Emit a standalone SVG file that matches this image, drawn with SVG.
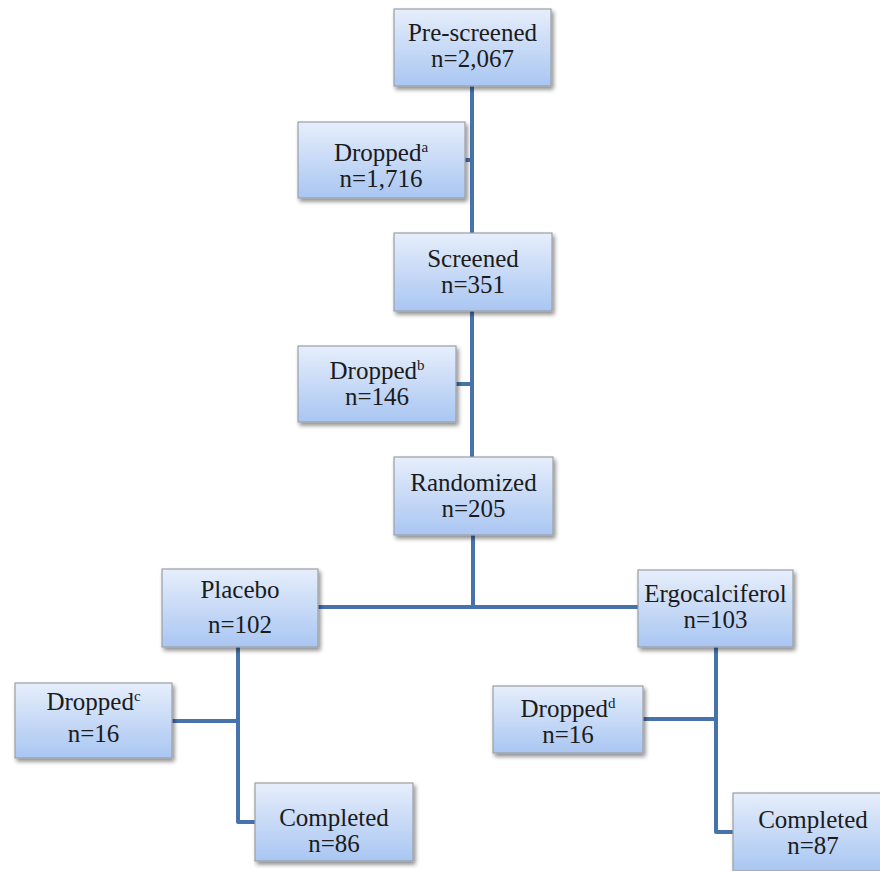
<svg xmlns="http://www.w3.org/2000/svg" width="880" height="871" viewBox="0 0 880 871">
<defs>
<linearGradient id="g" x1="0" y1="0" x2="0" y2="1">
<stop offset="0" stop-color="#e6eefb"/>
<stop offset="1" stop-color="#a9c6f2"/>
</linearGradient>
<filter id="sh" x="-10%" y="-10%" width="130%" height="130%">
<feGaussianBlur in="SourceAlpha" stdDeviation="2"/>
<feOffset dx="2" dy="3" result="b"/>
<feComponentTransfer><feFuncA type="linear" slope="0.45"/></feComponentTransfer>
<feMerge><feMergeNode/><feMergeNode in="SourceGraphic"/></feMerge>
</filter>
</defs>
<style>
.box{fill:url(#g);stroke:#9c9fa6;stroke-width:1.2;filter:url(#sh)}
.t{font-family:"Liberation Serif","Times New Roman",serif;font-size:25px;fill:#1b1b1b;text-anchor:middle}
.sup{font-size:15px}
.c{fill:none;stroke:#4773ad;stroke-width:4;stroke-linejoin:round}
</style>
<rect width="880" height="871" fill="#ffffff"/>
<g id="connectors">
<path class="c" d="M472 86V457"/>
<path class="c" d="M465 160H472"/>
<path class="c" d="M456 384H472"/>
<path class="c" d="M473 535V607"/>
<path class="c" d="M318 607H638"/>
<path class="c" d="M238 647V822H255"/>
<path class="c" d="M172 721H238"/>
<path class="c" d="M716 647V832H733"/>
<path class="c" d="M643 719H716"/>
</g>
<g id="prescreened">
<rect class="box" x="394" y="9" width="157" height="77"/>
<text class="t" x="472.5" y="41">Pre-screened</text>
<text class="t" x="472.5" y="67">n=2,067</text>
</g>
<g id="droppedA">
<rect class="box" x="298" y="122" width="167" height="76"/>
<text class="t" x="381" y="161">Dropped<tspan class="sup" dy="-9">a</tspan></text>
<text class="t" x="381" y="187">n=1,716</text>
</g>
<g id="screened">
<rect class="box" x="394" y="233" width="158" height="78"/>
<text class="t" x="473" y="267">Screened</text>
<text class="t" x="473" y="293">n=351</text>
</g>
<g id="droppedB">
<rect class="box" x="298" y="346" width="158" height="76"/>
<text class="t" x="377" y="379">Dropped<tspan class="sup" dy="-9">b</tspan></text>
<text class="t" x="377" y="405">n=146</text>
</g>
<g id="randomized">
<rect class="box" x="394" y="457" width="159" height="78"/>
<text class="t" x="473.5" y="491">Randomized</text>
<text class="t" x="473.5" y="517">n=205</text>
</g>
<g id="placebo">
<rect class="box" x="162" y="569" width="156" height="78"/>
<text class="t" x="240" y="598">Placebo</text>
<text class="t" x="240" y="633">n=102</text>
</g>
<g id="ergocalciferol">
<rect class="box" x="638" y="570" width="155" height="77"/>
<text class="t" x="715.5" y="602">Ergocalciferol</text>
<text class="t" x="715.5" y="628">n=103</text>
</g>
<g id="droppedC">
<rect class="box" x="15" y="683" width="157" height="75"/>
<text class="t" x="93.5" y="710">Dropped<tspan class="sup" dy="-9">c</tspan></text>
<text class="t" x="93.5" y="742">n=16</text>
</g>
<g id="droppedD">
<rect class="box" x="493" y="686" width="150" height="67"/>
<text class="t" x="568" y="717">Dropped<tspan class="sup" dy="-9">d</tspan></text>
<text class="t" x="568" y="743">n=16</text>
</g>
<g id="completed86">
<rect class="box" x="255" y="783" width="158" height="78"/>
<text class="t" x="334" y="826">Completed</text>
<text class="t" x="334" y="852">n=86</text>
</g>
<g id="completed87">
<rect class="box" x="733" y="793" width="160" height="78"/>
<text class="t" x="813" y="828">Completed</text>
<text class="t" x="813" y="854">n=87</text>
</g>
</svg>
